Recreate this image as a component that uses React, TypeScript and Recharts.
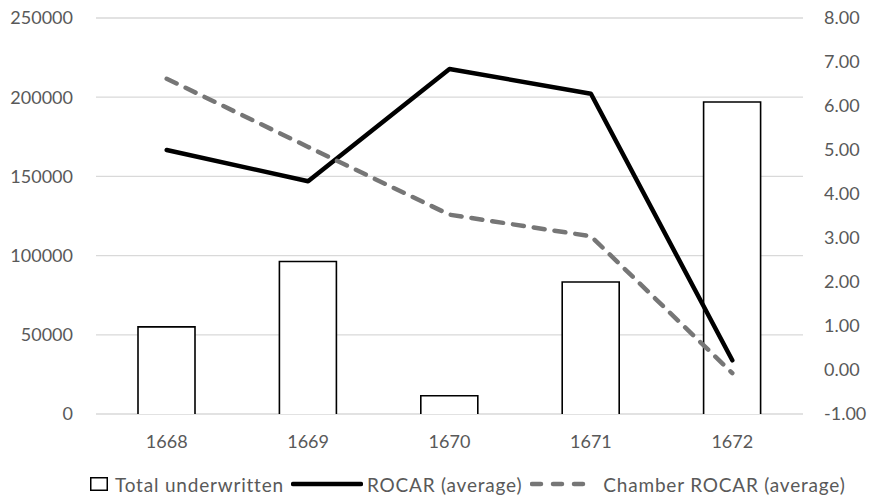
import React from 'react';
import { ComposedChart, Bar, Line, XAxis, YAxis, CartesianGrid, Legend } from 'recharts';

const years = ['1668', '1669', '1670', '1671', '1672'];
const totalUnderwritten = [55000, 96300, 11500, 83300, 197000];
const rocarAverage = [5.0, 4.29, 6.84, 6.28, 0.22];
const chamberRocarAverage = [6.62, 5.07, 3.53, 3.04, -0.07];
const leftTicks = [0, 50000, 100000, 150000, 200000, 250000];
const rightTicks = [-1, 0, 1, 2, 3, 4, 5, 6, 7, 8];

const chartData = years.map((year, i) => ({
    year,
    total: totalUnderwritten[i],
    rocar: rocarAverage[i],
    chamber: chamberRocarAverage[i],
}));

const FONT = 'Lato, "DejaVu Sans", sans-serif';
const TEXT = '#595959';

// bar outline without the bottom edge, like the Excel original
const OpenBar = (props: any) => {
    const { x, y, width, height } = props;
    return (
        <path
            d={`M${x},${y + height} V${y} H${x + width} V${y + height}`}
            fill="#fff"
            stroke="#000"
            strokeWidth={1.6}
        />
    );
};

const LegendContent = () => (
    <div style={{ display: 'flex', alignItems: 'center', height: 28, fontFamily: FONT, fontSize: 19, letterSpacing: 0.8, color: TEXT, whiteSpace: 'nowrap' }}>
        <svg width={18} height={14}>
            <rect x={0.75} y={0.75} width={16.5} height={12.5} fill="#fff" stroke="#000" strokeWidth={1.5} />
        </svg>
        <span style={{ marginLeft: 7 }}>Total underwritten</span>
        <svg width={72} height={10} style={{ marginLeft: 7 }}>
            <line x1={2} y1={5} x2={70} y2={5} stroke="#000" strokeWidth={4.5} strokeLinecap="round" />
        </svg>
        <span style={{ marginLeft: 4 }}>ROCAR (average)</span>
        <svg width={62} height={10} style={{ marginLeft: 8 }}>
            <line x1={2} y1={5} x2={60} y2={5} stroke="#767676" strokeWidth={4.5} strokeLinecap="round" strokeDasharray="9 12" />
        </svg>
        <span style={{ marginLeft: 11 }}>Chamber ROCAR (average)</span>
    </div>
);

const App: React.FC = () => {
    return (
        <div style={{ position: 'absolute', left: 0, top: 0, width: 872, height: 504, background: '#fff' }}>
            <ComposedChart width={872} height={504} data={chartData} margin={{ top: 18, right: 0, left: 0, bottom: 26 }} barSize={57}>
                <CartesianGrid yAxisId="left" vertical={false} stroke="#d9d9d9" strokeWidth={1.3} />
                <XAxis
                    dataKey="year"
                    height={36}
                    axisLine={false}
                    tickLine={false}
                    tickSize={0}
                    tickMargin={21}
                    tick={{ fill: TEXT, fontSize: 18, fontFamily: FONT }}
                />
                <YAxis
                    yAxisId="left"
                    width={96}
                    domain={[0, 250000]}
                    ticks={leftTicks}
                    axisLine={false}
                    tickLine={false}
                    tickSize={0}
                    tickMargin={23}
                    tick={{ fill: TEXT, fontSize: 18, fontFamily: FONT }}
                />
                <YAxis
                    yAxisId="right"
                    orientation="right"
                    width={69}
                    domain={[-1, 8]}
                    ticks={rightTicks}
                    axisLine={false}
                    tickLine={false}
                    tickSize={0}
                    tickMargin={21}
                    tickFormatter={(v: number) => v.toFixed(2)}
                    tick={{ fill: TEXT, fontSize: 18, fontFamily: FONT }}
                />
                <Legend
                    verticalAlign="bottom"
                    content={<LegendContent />}
                    wrapperStyle={{ left: 90, top: 470, height: 28, width: 780 }}
                />
                <Bar yAxisId="left" dataKey="total" name="Total underwritten" shape={<OpenBar />} isAnimationActive={false} />
                <Line
                    yAxisId="right"
                    type="linear"
                    dataKey="rocar"
                    name="ROCAR (average)"
                    stroke="#000"
                    strokeWidth={4.5}
                    strokeLinecap="round"
                    strokeLinejoin="round"
                    dot={false}
                    activeDot={false}
                    isAnimationActive={false}
                />
                <Line
                    yAxisId="right"
                    type="linear"
                    dataKey="chamber"
                    name="Chamber ROCAR (average)"
                    stroke="#767676"
                    strokeWidth={4.5}
                    strokeLinecap="round"
                    strokeDasharray="11 10"
                    dot={false}
                    activeDot={false}
                    isAnimationActive={false}
                />
            </ComposedChart>
        </div>
    );
};

export default App;
